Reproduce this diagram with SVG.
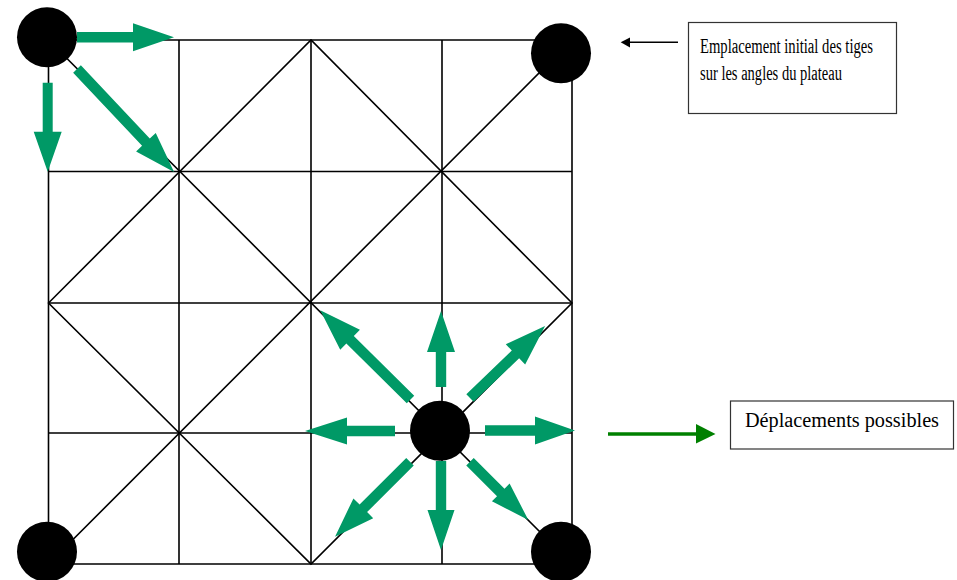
<svg xmlns="http://www.w3.org/2000/svg" width="957" height="580" viewBox="0 0 957 580">
<style>
.g{stroke:#000;stroke-width:1.6;fill:none;stroke-linecap:square}
.ga{fill:#009966}
.pin{fill:#000}
.box{fill:#fff;stroke:#333;stroke-width:1.2}
.t{font-family:"Liberation Serif","Times New Roman",serif;font-size:20px;fill:#000}
</style>
<rect width="957" height="580" fill="#fff"/>
<g id="board">
<path class="g" d="M48.5,40 H572 V564 H48.5 Z M179,40 V564 M311,40 V564 M442,40 V564 M48.5,171.5 H572 M48.5,303 H572 M48.5,433 H572"/>
<path class="g" d="M48.5,40 L572,564 M572,40 L48.5,564 M48.5,303 L311,40 L572,303 L311,564 Z"/>
</g>
<g id="connectors">
<polygon class="ga" transform="translate(77,37.3)" points="0,-5.3 56,-5.3 56,-14 97,0 56,14 56,5.3 0,5.3"/>
<polygon class="ga" transform="translate(47.7,82.7) rotate(90)" points="0,-5 49,-5 49,-14 89,0 49,14 49,5 0,5"/>
<polygon class="ga" transform="translate(77,69) rotate(46.7)" points="0,-5.3 100.5,-5.3 100.5,-13.5 141.5,0 100.5,13.5 100.5,5.3 0,5.3"/>
<polygon class="ga" transform="translate(441,387) rotate(-90)" points="0,-5.2 35,-5.2 35,-14 76,0 35,14 35,5.2 0,5.2"/>
<polygon class="ga" transform="translate(485,430.5)" points="0,-5.3 50,-5.3 50,-14 90,0 50,14 50,5.3 0,5.3"/>
<polygon class="ga" transform="translate(395,431) rotate(180)" points="0,-5.3 48,-5.3 48,-13.5 90,0 48,13.5 48,5.3 0,5.3"/>
<polygon class="ga" transform="translate(441,461) rotate(90)" points="0,-5.2 49,-5.2 49,-13.5 89,0 49,13.5 49,5.2 0,5.2"/>
<polygon class="ga" transform="translate(410.5,399.5) rotate(-135.3)" points="0,-5.3 85,-5.3 85,-14 127,0 85,14 85,5.3 0,5.3"/>
<polygon class="ga" transform="translate(470,398) rotate(-43.8)" points="0,-5.3 63,-5.3 63,-14 104,0 63,14 63,5.3 0,5.3"/>
<polygon class="ga" transform="translate(410,461.7) rotate(135)" points="0,-5.3 66,-5.3 66,-14 106,0 66,14 66,5.3 0,5.3"/>
<polygon class="ga" transform="translate(470,461.7) rotate(45)" points="0,-5.3 43.5,-5.3 43.5,-12.5 82.5,0 43.5,12.5 43.5,5.3 0,5.3"/>
<line x1="628" y1="42.3" x2="678" y2="42.3" stroke="#000" stroke-width="1.6"/>
<polygon fill="#000" points="620.7,42.3 630,37.5 630,47.5"/>
<line x1="608" y1="434" x2="698" y2="434" stroke="#008000" stroke-width="3.5"/>
<polygon fill="#008000" points="696,424 715.5,434 696,443.5"/>
</g>
<g id="pin-tl"><circle class="pin" cx="47" cy="37.3" r="30"/></g>
<g id="pin-tr"><circle class="pin" cx="561" cy="53.3" r="30"/></g>
<g id="pin-bl"><circle class="pin" cx="47" cy="551.7" r="30"/></g>
<g id="pin-br"><circle class="pin" cx="561" cy="551.7" r="30"/></g>
<g id="pin-center"><circle class="pin" cx="440" cy="430.7" r="30"/></g>
<g id="legend-initial">
<rect class="box" x="688.5" y="22.5" width="208" height="91"/>
<text class="t" x="700" y="53" textLength="173" lengthAdjust="spacingAndGlyphs">Emplacement initial des tiges</text>
<text class="t" x="700" y="80" textLength="142" lengthAdjust="spacingAndGlyphs">sur les angles du plateau</text>
</g>
<g id="legend-moves">
<rect class="box" x="730.5" y="401" width="223" height="48"/>
<text class="t" x="745" y="426.5" textLength="194" lengthAdjust="spacingAndGlyphs">Déplacements possibles</text>
</g>
</svg>
